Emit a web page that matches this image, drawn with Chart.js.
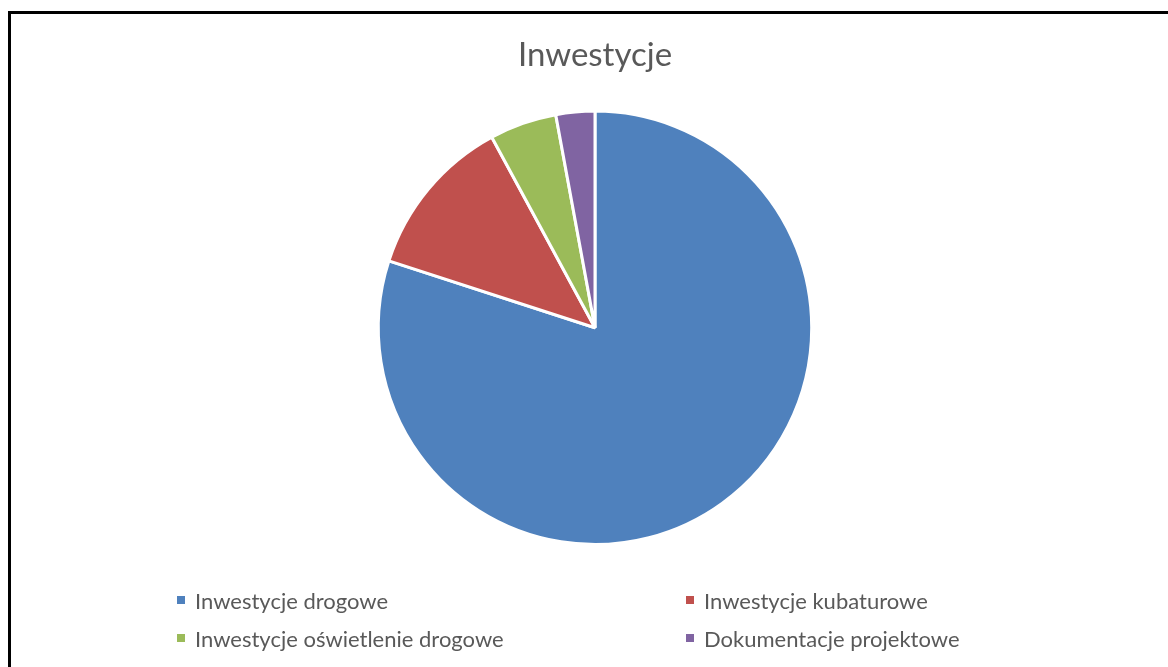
<!DOCTYPE html>
<html>
<head>
<meta charset="utf-8">
<script src="https://cdn.jsdelivr.net/npm/chart.js@4"></script>
<style>
  html, body { margin: 0; padding: 0; background: #fff; overflow: hidden; }
  #frame {
    position: absolute; left: 8px; top: 11px;
    width: 1200px; height: 700px;
    border: 3px solid #000; box-sizing: border-box;
  }
  #piechart { position: absolute; left: 0; top: 0; }
  #legend {
    position: absolute; left: 177px; top: 581px;
    display: grid; grid-template-columns: 509px auto;
    grid-auto-rows: 38px;
    font-family: Lato, "Open Sans", sans-serif; font-size: 22px; color: #595959;
  }
  .item { display: flex; align-items: center; white-space: nowrap; }
  .box { width: 8px; height: 8px; margin-right: 10px; flex: none; }
</style>
</head>
<body>
<div id="frame"></div>
<canvas id="piechart" width="1168" height="667"></canvas>
<div id="legend"></div>
<script>
const title = "Inwestycje";
const categories = [
  "Inwestycje drogowe",
  "Inwestycje kubaturowe",
  "Inwestycje oświetlenie drogowe",
  "Dokumentacje projektowe",
];
const shares = [80, 12.1, 5.0, 2.9];
const colors = ["#4F81BD", "#C0504D", "#9BBB59", "#8064A2"];

const ctx = document.getElementById("piechart");

new Chart(ctx, {
  type: "pie",
  data: {
    labels: categories,
    datasets: [
      {
        data: shares,
        backgroundColor: colors,
        borderColor: "#ffffff",
        borderWidth: 3,
      },
    ],
  },
  options: {
    responsive: false,
    animation: false,
    layout: {
      padding: { left: 22, right: 0, top: 0, bottom: 121 },
    },
    plugins: {
      legend: { display: false },
      tooltip: { enabled: false },
      title: {
        display: true,
        text: title,
        color: "#595959",
        font: { family: "Lato", size: 33, weight: "normal" },
        padding: { top: 36, bottom: 34 },
      },
    },
  },
});

// legend in two columns, as in the original
const legend = document.getElementById("legend");
categories.forEach((name, i) => {
  const item = document.createElement("div");
  item.className = "item";
  const box = document.createElement("span");
  box.className = "box";
  box.style.background = colors[i];
  item.appendChild(box);
  item.appendChild(document.createTextNode(name));
  legend.appendChild(item);
});
</script>
</body>
</html>
